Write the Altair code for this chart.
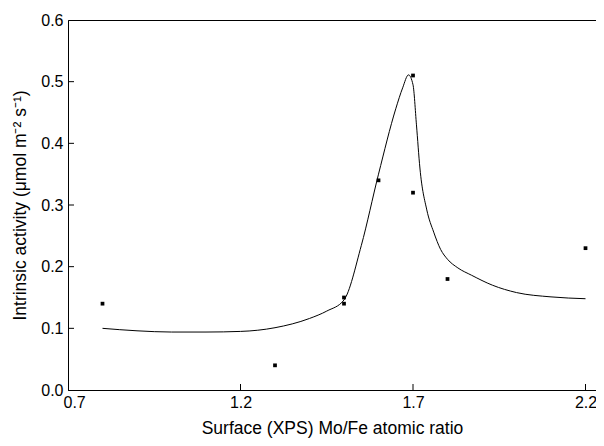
import altair as alt
import pandas as pd

# Measured points
point_x = [0.80, 1.30, 1.50, 1.50, 1.60, 1.70, 1.70, 1.80, 2.20]
point_y = [0.14, 0.04, 0.15, 0.14, 0.34, 0.51, 0.32, 0.18, 0.23]

# Fitted curve
curve_x = [0.80, 0.90, 1.00, 1.10, 1.20, 1.30, 1.40, 1.45, 1.50, 1.55, 1.60,
           1.65, 1.67, 1.687, 1.70, 1.71, 1.72, 1.74, 1.76, 1.78, 1.80, 1.83,
           1.87, 1.93, 2.00, 2.10, 2.20]
curve_y = [0.100, 0.096, 0.094, 0.094, 0.095, 0.101, 0.116, 0.128, 0.146, 0.234,
           0.350, 0.456, 0.490, 0.511, 0.495, 0.430, 0.360, 0.292, 0.256, 0.228,
           0.212, 0.198, 0.186, 0.170, 0.158, 0.151, 0.148]

x_ticks = [0.7, 1.2, 1.7, 2.2]
y_ticks = [0.0, 0.1, 0.2, 0.3, 0.4, 0.5, 0.6]

W, H = 528, 370
FONT = "Liberation Sans"

pts = pd.DataFrame({"x": point_x, "y": point_y})
crv = pd.DataFrame({"x": curve_x, "y": curve_y})
xt = pd.DataFrame({"x": x_ticks[1:]})
yt = pd.DataFrame({"y": y_ticks[1:-1]})

xscale = alt.Scale(domain=[0.7, 2.2304], nice=False, zero=False)
yscale = alt.Scale(domain=[0.0, 0.6], nice=False, zero=True)

xaxis = alt.Axis(values=x_ticks, format=".1f", ticks=False, grid=False,
                 labelPadding=4, titlePadding=9, domainColor="black",
                 labelFlushOffset=5,
                 labelFontSize=16, titleFontSize=17.5, labelColor="black",
                 titleColor="black", titleFontWeight="normal",
                 labelFont=FONT, titleFont=FONT)
yaxis = alt.Axis(values=y_ticks, format=".1f", ticks=False, grid=False,
                 labelPadding=5, titlePadding=11, domainColor="black",
                 labelFontSize=16, titleFontSize=17.5, labelColor="black",
                 titleColor="black", titleFontWeight="normal",
                 labelFont=FONT, titleFont=FONT)

line = alt.Chart(crv).mark_line(color="black", strokeWidth=1, interpolate="monotone").encode(
    x=alt.X("x:Q", scale=xscale, axis=xaxis, title="Surface (XPS) Mo/Fe atomic ratio"),
    y=alt.Y("y:Q", scale=yscale, axis=yaxis, title="Intrinsic activity (μmol m⁻² s⁻¹)"),
)

dots = alt.Chart(pts).mark_square(color="black", size=14, opacity=1).encode(
    x=alt.X("x:Q", scale=xscale),
    y=alt.Y("y:Q", scale=yscale),
)

xtick = alt.Chart(xt).mark_rule(color="black", strokeWidth=1).encode(
    x=alt.X("x:Q", scale=xscale),
    y=alt.value(H), y2=alt.value(H - 6),
)
ytick = alt.Chart(yt).mark_rule(color="black", strokeWidth=1).encode(
    y=alt.Y("y:Q", scale=yscale),
    x=alt.value(0), x2=alt.value(6),
)

chart = alt.layer(line, dots, xtick, ytick).properties(
    width=W, height=H,
    autosize=alt.AutoSizeParams(type="none"),
    padding={"left": 60, "top": 12, "right": 0, "bottom": 48},
    background="white",
).configure_view(stroke="black", strokeWidth=1)

chart.save("out.html", embed_options={"renderer": "svg", "actions": False})
